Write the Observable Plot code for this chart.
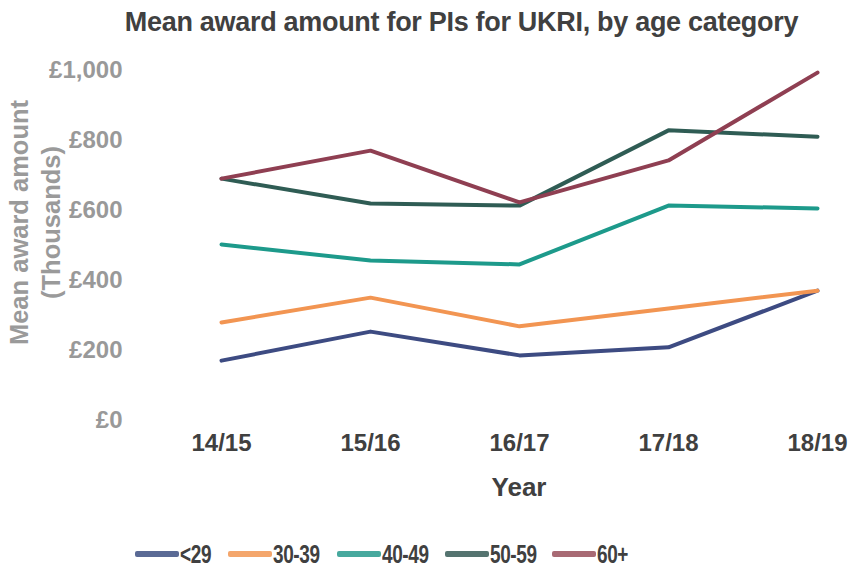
<!DOCTYPE html>
<html>
<head>
<meta charset="utf-8">
<script src="https://cdn.jsdelivr.net/npm/d3@7"></script>
<script src="https://cdn.jsdelivr.net/npm/@observablehq/plot@0.6"></script>
<style>
  html, body { margin: 0; padding: 0; background: #fff; }
  body { width: 851px; height: 569px; overflow: hidden; font-family: "Liberation Sans", Arial, sans-serif; }
  #title { height: 45px; line-height: 45px; text-align: center; font-size: 27px; font-weight: bold; color: #404040; padding-left: 72px; letter-spacing: -0.3px; }
  #legend { position: absolute; top: 540px; left: 0; width: 851px; height: 28px; }
  .item { position: absolute; top: 0; display: flex; align-items: center; height: 28px; font-size: 25px; font-weight: bold; color: #404040; }
  .item span { display: inline-block; transform: scaleX(0.76); transform-origin: left center; letter-spacing: -0.5px; }
  .sw { width: 44px; height: 6px; border-radius: 2px; margin-right: 1px; }
</style>
</head>
<body>
<div id="title">Mean award amount for PIs for UKRI, by age category</div>
<div id="chart"></div>
<div id="legend"></div>
<script>
const years = ["14/15", "15/16", "16/17", "17/18", "18/19"];
const groups = ["<29", "30-39", "40-49", "50-59", "60+"];
const lineColors = ["#3d4b82", "#f29552", "#1d9a8b", "#2f5c54", "#8f3f52"];
const swatchColors = ["#5a6a95", "#f4a66c", "#47a99e", "#557470", "#a86a74"];
const under29 = [171, 254, 186, 209, 371];
const age30to39 = [280, 351, 269, 320, 371];
const age40to49 = [503, 457, 446, 614, 606];
const age50to59 = [691, 620, 614, 829, 811];
const age60plus = [691, 771, 623, 743, 994];
const yTicks = [0, 200, 400, 600, 800, 1000];
const legendX = [135, 228, 337, 445, 552];

const series = [under29, age30to39, age40to49, age50to59, age60plus];
const data = [];
groups.forEach((g, i) => years.forEach((y, j) => data.push({group: g, year: y, value: series[i][j]})));

const fmt = v => "£" + d3.format(",")(v);

const chart = Plot.plot({
  width: 851,
  height: 475,
  marginTop: 25,
  marginBottom: 100,
  marginLeft: 219,
  marginRight: 33,
  style: { fontFamily: "Liberation Sans, Arial, sans-serif", background: "#fff" },
  x: { type: "point", domain: years, padding: 0, label: null },
  y: { domain: [0, 1000], label: null },
  color: { domain: groups, range: lineColors },
  marks: [
    Plot.axisY(yTicks, { tickSize: 0, tickPadding: 97, tickFormat: fmt, fontSize: 24, fontWeight: "bold", fill: "#999999", label: null }),
    Plot.axisX({ tickSize: 0, tickPadding: 13, fontSize: 24, fontWeight: "bold", fill: "#404040", label: null }),
    Plot.text(["Year"], { frameAnchor: "bottom", dy: 75, fontSize: 26, fontWeight: "bold", fill: "#404040", textAnchor: "middle" }),
    Plot.text(["Mean award amount\n(Thousands)"], { frameAnchor: "left", dx: -214, dy: -23, rotate: -90, fontSize: 25.5, fontWeight: "bold", fill: "#9a9a9a", lineHeight: 1.25, textAnchor: "middle", lineAnchor: "top" }),
    Plot.line(data, { x: "year", y: "value", z: "group", stroke: "group", strokeWidth: 4, strokeLinejoin: "round", strokeLinecap: "round" })
  ]
});
document.getElementById("chart").appendChild(chart);

const legend = document.getElementById("legend");
groups.forEach((g, i) => {
  const it = document.createElement("div");
  it.className = "item";
  it.style.left = legendX[i] + "px";
  const sw = document.createElement("div");
  sw.className = "sw";
  sw.style.background = swatchColors[i];
  const lb = document.createElement("span");
  lb.textContent = g;
  it.appendChild(sw);
  it.appendChild(lb);
  legend.appendChild(it);
});
</script>
</body>
</html>
